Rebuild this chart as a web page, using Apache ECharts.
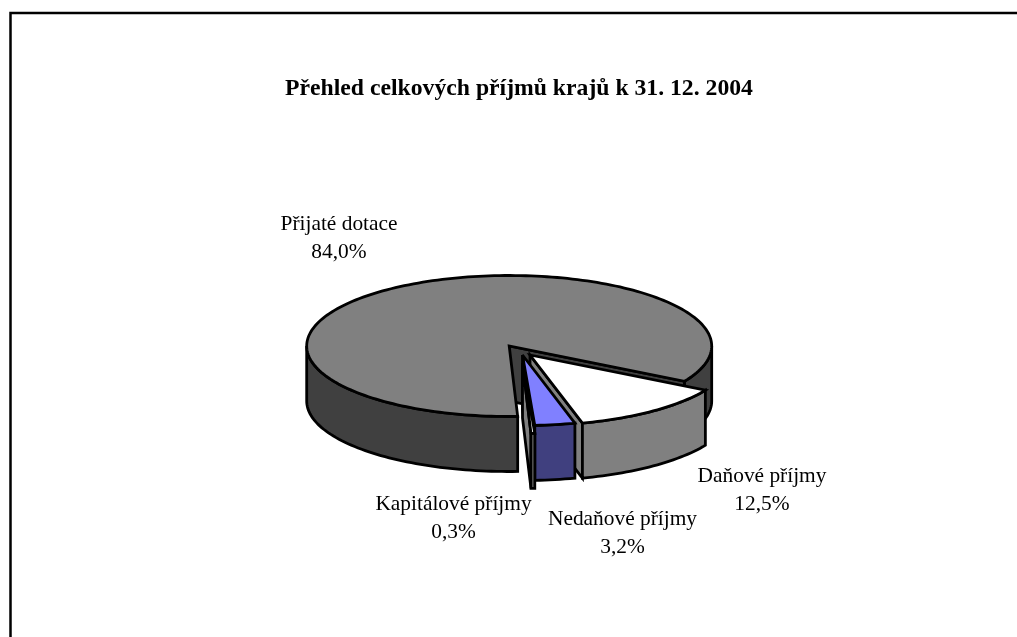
<!DOCTYPE html>
<html><head><meta charset="utf-8">
<style>html,body{margin:0;padding:0;background:#fff}#c{width:1017px;height:637px}</style>
<script src="https://cdn.jsdelivr.net/npm/echarts@6/dist/echarts.min.js"></script>
</head><body><div id="c"></div>
<script>
// data
var titleText = 'Přehled celkových příjmů krajů k 31. 12. 2004';
var categories = ['Přijaté dotace', 'Daňové příjmy', 'Nedaňové příjmy', 'Kapitálové příjmy'];
var shares = [84.0, 12.5, 3.2, 0.3];
// style & layout
var topColors = ['#808080', '#ffffff', '#8080ff', '#ffffff'];
var wallColors = ['#404040', '#808080', '#40407f', '#808080'];
var apexes = [[509.2, 346], [530, 355], [522.5, 355], [522.5, 363]];
var labelCenters = [[339, 238.5], [762, 490.5], [622.5, 533.5], [453.5, 518]];
var RX = 202.5, RY = 70.5, DEPTH = 55, FIRST_ANGLE = 30, STROKE = 2.8;

var rad = Math.PI / 180;
// angular ranges derived from the values
function sliceRange(i) {
  var total = shares.reduce(function (a, b) { return a + b; }, 0);
  var a = FIRST_ANGLE, k;
  if (i === 0) {
    for (k = 1; k < shares.length; k++) a += shares[k] / total * 360;
    return [a, a + shares[0] / total * 360];
  }
  for (k = 1; k < i; k++) a += shares[k] / total * 360;
  return [a, a + shares[i] / total * 360];
}
function rim(c, a, dz) {
  return [c[0] + RX * Math.cos(a * rad), c[1] + RY * Math.sin(a * rad) + (dz || 0)];
}
function arc(c, a1, a2, dz) {
  var n = Math.max(2, Math.ceil(Math.abs(a2 - a1) / 1.5)), p = [], j;
  for (j = 0; j <= n; j++) p.push(rim(c, a1 + (a2 - a1) * j / n, dz));
  return p;
}
function poly(points, fill) {
  return { type: 'polygon', shape: { points: points },
    style: { fill: fill, stroke: '#000', lineWidth: STROKE, lineJoin: 'miter', miterLimit: 4 } };
}
function renderSlice(params) {
  var i = params.dataIndex, r = sliceRange(i), c = apexes[i], kids = [];
  var a1 = r[0], a2 = r[1], wall = wallColors[i];
  // side face on the far end of the slice
  if (Math.cos(a2 * rad) > 0) {
    kids.push(poly([c, rim(c, a2), rim(c, a2, DEPTH), [c[0], c[1] + DEPTH]], wall));
  }
  // outer wall: only the parts facing the viewer
  [[0, 180], [360, 540]].forEach(function (w) {
    var s = Math.max(a1, w[0]), e = Math.min(a2, w[1]);
    if (e > s) kids.push(poly(arc(c, s, e, 0).concat(arc(c, e, s, DEPTH)), wall));
  });
  // top face
  kids.push(poly([c].concat(arc(c, a1, a2, 0)), topColors[i]));
  return { type: 'group', children: kids };
}
var option = {
  animation: false,
  backgroundColor: '#fff',
  title: { text: titleText, left: 514, top: 72, textAlign: 'center',
    textStyle: { fontFamily: 'Liberation Serif', fontSize: 23.7, fontWeight: 'bold', color: '#000' } },
  graphic: [
    { type: 'polyline', silent: true,
      shape: { points: [[10.5, 637], [10.5, 13], [1017, 13]] },
      style: { fill: null, stroke: '#000', lineWidth: 2.5 } }
  ].concat(categories.map(function (name, i) {
    return { type: 'text', silent: true, x: labelCenters[i][0], y: labelCenters[i][1],
      style: { text: name + '\n' + shares[i].toFixed(1).replace('.', ',') + '%',
        fontFamily: 'Liberation Serif', fontSize: 21.4, lineHeight: 28, fill: '#000',
        align: 'center', verticalAlign: 'middle' } };
  })),
  series: [{
    type: 'custom', coordinateSystem: 'none', silent: true,
    data: shares,
    renderItem: renderSlice
  }]
};
echarts.init(document.getElementById('c'), null, { renderer: 'canvas' }).setOption(option);
</script></body></html>
